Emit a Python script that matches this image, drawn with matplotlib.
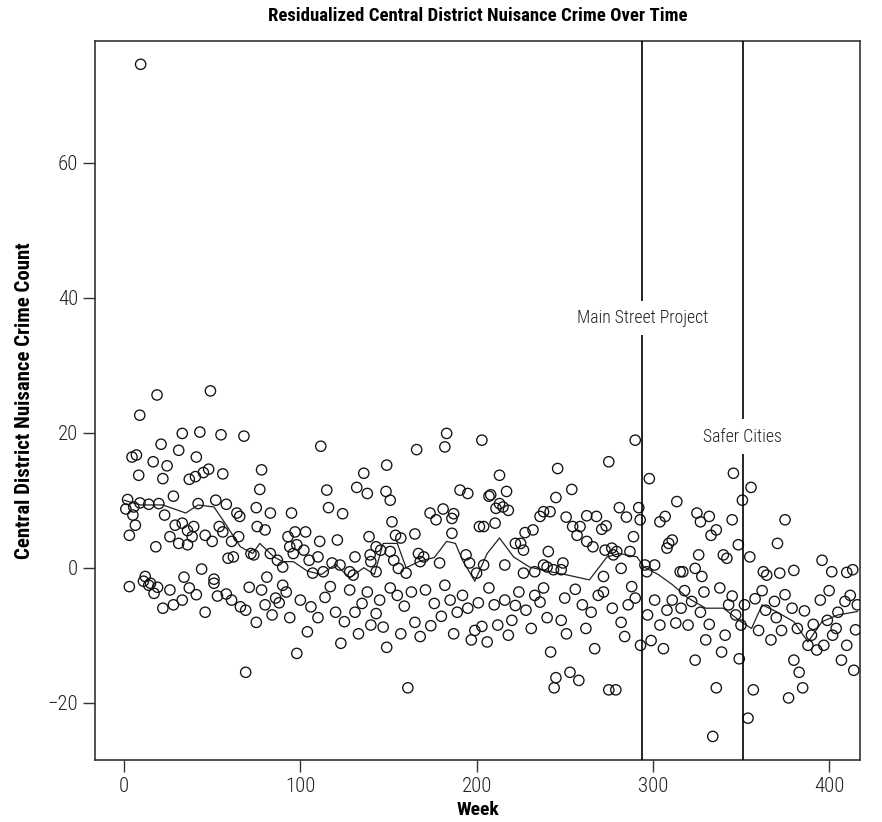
import matplotlib
matplotlib.use("Agg")
import matplotlib.pyplot as plt
from matplotlib import font_manager

# weekly residual counts (week, value) pairs
weeks = [
    9.4, 18.7, 49, 8.9, 33, 43, 55, 68, 21, 31, 4.5, 7, 16.5, 24.4, 41, 8.3, 22, 37, 40.5, 45,
    48, 56, 78, 77, 28, 2, 1, 5.5, 9, 14, 19.7, 5, 6.4, 3, 23, 42, 52, 58, 64, 65.6,
    75, 83, 95, 29, 33, 39.5, 36, 54, 26, 31, 36, 38.6, 46, 50, 56, 61, 65, 75.5, 80, 18,
    59, 62, 72, 73.6, 83, 87, 90, 93, 94, 96, 44, 12, 34, 51, 81,
    111.6, 166, 183, 182, 203, 149, 136, 115, 132, 138, 148.6, 151, 190.6, 195, 207, 116, 124, 152, 173.6, 177,
    181, 187, 186, 201.6, 186, 165, 97, 103, 111, 121, 139, 154, 157, 98, 102, 105, 110, 131, 139.6, 143,
    145.6, 151, 118, 122.5, 128, 140, 143, 153, 155.6, 167, 170, 168, 179, 194, 196, 200, 107, 113, 130, 160,
    290, 275, 298, 246, 213, 254, 245, 208, 217, 213, 211, 218, 215, 281, 292, 313.6, 238, 241.7, 236, 250.8,
    262.5, 268, 285, 292.8, 304, 307, 204, 210.5, 254.5, 258.7, 271, 273.5, 227.5, 232, 257, 289, 222, 225, 226.6, 262.5,
    266, 309, 311, 308, 240.7, 238, 240, 249, 248, 272.9, 276.7, 277.6, 279.5, 287, 216, 204, 282, 295.5, 301, 226.6,
    233, 243.6, 272, 296.6, 315.5,
    345.7, 355.7, 350.8, 375, 325, 327, 332, 336, 333, 345, 370.7, 348.5, 340, 342, 355, 326, 324, 317, 327.8, 396,
    362.7, 364.6, 372, 380, 401.5, 410, 413.4,
    11, 14, 15, 19, 26, 22, 33, 41, 46, 51, 58, 61, 69, 69, 80, 86, 90, 94, 98, 100,
    78, 75, 106, 110, 114, 120, 123, 128, 131, 135, 140, 145, 149, 151, 155, 159,
    161, 165, 171, 176, 180, 185, 189, 192, 197, 199, 203, 207, 210, 212,
    216, 220, 224, 228, 233, 236, 240, 244, 245, 248, 250, 253, 258, 260, 265, 269,
    275, 279, 282, 286, 290, 293, 297, 301, 304, 308, 311, 316, 320, 324, 327, 330, 334,
    336, 339, 343, 347, 350, 354, 357, 360,
    364, 367, 370, 373, 377, 380, 383, 385, 388, 390, 393, 395, 399, 402, 405, 407, 410, 412, 414, 416,
    3, 17, 28, 37, 53, 66, 71, 84, 88, 92,
    104, 117, 125, 133, 138, 143, 147, 157,
    163, 168, 174, 182, 187, 195, 201, 206,
    218, 222, 231, 238, 242, 251, 256, 262, 267,
    272, 277, 284, 288, 299, 306, 313, 318, 322, 329, 332,
    338, 341, 345, 349, 352, 358,
    362, 369, 375, 379, 382, 386, 391, 397, 400, 404, 409, 415,
]
counts = [
    74.6, 25.6, 26.2, 22.6, 19.9, 20.1, 19.7, 19.5, 18.3, 17.4, 16.4, 16.7, 15.7, 15.1, 16.4, 13.7, 13.2, 13.1, 13.5, 14.1,
    14.6, 13.9, 14.5, 11.6, 10.6, 10.1, 8.7, 9.0, 9.6, 9.4, 9.5, 7.8, 6.3, 4.8, 7.8, 9.5, 10.0, 9.4, 8.1, 7.6,
    8.9, 8.1, 8.1, 6.3, 6.6, 6.1, 5.5, 6.1, 4.6, 3.6, 3.4, 4.6, 4.8, 3.9, 5.3, 3.9, 4.6, 6.1, 5.6, 3.1,
    1.4, 1.6, 2.1, 1.9, 2.1, 1.1, 0.1, 4.6, 3.1, 2.1, -0.2, -1.3, -1.4, -1.7, -1.4,
    18.0, 17.5, 19.9, 17.9, 18.9, 15.2, 14.0, 11.5, 11.9, 11.0, 11.3, 10.0, 11.5, 11.0, 10.6, 8.9, 8.0, 6.8, 8.1, 7.1,
    8.7, 8.0, 7.3, 6.1, 5.1, 5.0, 5.3, 5.3, 3.9, 4.1, 4.6, 4.8, 4.4, 3.4, 2.6, 1.1, 1.6, 1.6, 1.9, 3.1,
    2.6, 2.4, 0.7, 0.4, -0.6, 0.9, -0.6, 1.1, -0.1, 2.1, 1.6, 0.9, 0.7, 1.9, 0.7, -0.8, -0.8, -0.6, -1.1, -0.8,
    18.9, 15.7, 13.2, 14.7, 13.7, 11.6, 10.4, 10.8, 11.3, 9.5, 8.8, 8.5, 9.0, 8.9, 8.9, 9.8, 8.3, 8.3, 7.6, 7.5,
    7.7, 7.6, 7.5, 7.1, 6.8, 7.6, 6.1, 6.6, 6.1, 6.1, 5.7, 6.2, 5.2, 5.6, 4.8, 4.6, 3.6, 3.6, 2.6, 3.9,
    3.1, 3.6, 4.1, 2.9, 2.4, 0.4, 0.1, 0.7, -0.3, 2.6, 2.9, 1.9, 2.4, 2.4, 0.4, 0.4, -0.1, 0.4, 0.4, -0.8,
    -0.6, -0.3, -1.3, -0.6, -0.6,
    14.0, 11.9, 10.0, 7.1, 8.1, 6.8, 7.6, 5.6, 4.8, 7.1, 3.6, 3.4, 1.9, 1.4, 1.6, 1.9, -0.1, -0.6, -1.3, 1.1,
    -0.6, -1.1, -0.8, -0.4, -0.6, -0.7, -0.3,
    -2.0, -2.6, -2.3, -2.9, -3.3, -6.0, -4.8, -4.0, -6.6, -2.3, -3.9, -4.8, -6.3, -15.5, -5.5, -4.5, -2.6, -7.4, -12.7, -4.8,
    -3.3, -8.1, -5.8, -7.4, -4.4, -6.6, -11.2, -3.3, -6.6, -5.3, -8.5, -4.8, -11.8, -3.0, -4.1, -5.7,
    -17.8, -8.1, -3.3, -5.3, -7.2, -4.8, -6.6, -4.1, -10.7, -9.3, -8.7, -3.0, -5.5, -8.5,
    -4.8, -7.8, -3.6, -6.3, -4.1, -5.1, -7.4, -17.8, -16.3, -7.8, -4.5, -15.5, -16.7, -5.5, -6.6, -4.1,
    -18.1, -18.1, -8.1, -5.5, -4.5, -11.5, -7.0, -4.8, -8.5, -6.3, -4.8, -6.0, -8.5, -13.7, -6.6, -10.7, -25.0,
    -17.8, -12.5, -5.5, -7.0, -8.5, -22.3, -18.1, -9.3,
    -6.3, -10.7, -7.4, -9.3, -19.3, -13.7, -15.5, -17.8, -11.5, -10.0, -12.2, -4.8, -7.8, -10.0, -6.6, -13.7, -11.5, -4.1, -15.2, -5.5,
    -2.8, -3.8, -5.5, -3.0, -4.2, -5.8, -2.9, -7.0, -5.2, -3.6,
    -9.5, -2.8, -8.0, -9.8, -3.6, -6.8, -8.8, -9.8,
    -3.6, -10.2, -8.6, -2.6, -9.8, -6.0, -5.2, -11.0,
    -10.0, -5.6, -9.0, -3.0, -12.5, -9.8, -3.2, -9.0, -12.0,
    -3.6, -6.0, -10.2, -2.8, -10.8, -12.0, -8.2, -3.4, -5.0, -3.6, -8.4,
    -3.0, -10.0, -4.2, -13.5, -5.5, -4.6,
    -3.4, -5.0, -4.0, -6.0, -9.0, -6.4, -8.4, -11.5, -3.4, -9.0, -5.0, -9.2,
]

# smoothed trend through the weekly counts
trend_weeks = [0, 9, 22, 35, 42, 51, 56, 66, 73, 77, 85, 90, 96, 104, 112, 120, 128, 136, 142, 147,
               155, 160, 168, 176, 183, 188, 192, 199, 206, 213, 221, 230, 240, 250, 264, 274, 281, 291, 295, 303,
               311, 320, 330, 340, 350, 356, 362, 370, 380, 388, 396, 405, 416]
trend_vals = [10.0, 9.3, 9.3, 8.1, 9.3, 9.0, 7.1, 3.1, 2.1, 3.6, 1.6, 0.9, 0.9, -0.5, -1.0, 0.5, -1.5, 0.0, -1.0, 3.6,
              3.6, 0.0, 1.0, 1.5, 3.9, 3.6, 1.1, -2.0, 2.1, 4.4, 1.6, 0.1, -0.5, -1.0, -1.8, 1.6, 2.1, 1.6, 0.1, -1.0,
              -2.5, -4.5, -6.0, -6.0, -8.0, -9.0, -5.5, -6.5, -8.0, -11.0, -8.0, -7.0, -6.5]

events = ["Main Street Project", "Safer Cities"]
event_weeks = [294, 351]
event_label_y = [37, 19.4]

# prefer a narrow face for the labels
installed = {f.name for f in font_manager.fontManager.ttflist}
family = "Roboto"
for cand in ["Liberation Sans Narrow", "Roboto Condensed", "Open Sans Condensed", "Noto Sans Condensed"]:
    if cand in installed:
        family = cand
        break
plt.rcParams["font.family"] = [family, "DejaVu Sans"]
plt.rcParams["font.stretch"] = "condensed"

fig = plt.figure(figsize=(8.82, 8.22), dpi=100)
ax = fig.add_axes([0.1077, 0.0754, 0.8673, 0.8751])

ax.scatter(weeks, counts, s=55, facecolors="none", edgecolors="#111111", linewidths=0.95, zorder=3)
ax.plot(trend_weeks, trend_vals, color="#222222", linewidth=0.9, zorder=2)

for name, wk, ly in zip(events, event_weeks, event_label_y):
    ax.axvline(wk, color="black", linewidth=1.2, zorder=4)
    ax.text(wk, ly, name, ha="center", va="center", fontsize=12.8, color="#222222", fontweight="light",
            bbox=dict(facecolor="white", edgecolor="none", pad=6), zorder=5)

ax.set_xlim(-16.5, 417.5)
ax.set_ylim(-28.5, 78.1)
ax.set_xticks([0, 100, 200, 300, 400])
ax.set_yticks([-20, 0, 20, 40, 60])
ax.tick_params(direction="out", length=8.5, width=1.0, labelsize=15, colors="#333333", labelcolor="#222222")
for lab in ax.get_xticklabels() + ax.get_yticklabels():
    lab.set_fontweight("light")
for s in ax.spines.values():
    s.set_color("#333333")
    s.set_linewidth(1.2)

ax.set_title("Residualized Central District Nuisance Crime Over Time", fontsize=13.5, fontweight="bold", pad=14)
ax.set_xlabel("Week", fontsize=14, fontweight="bold", labelpad=4)
ax.set_ylabel("Central District Nuisance Crime Count", fontsize=15, fontweight="bold", labelpad=10)

fig.savefig("out.png", dpi=100)
